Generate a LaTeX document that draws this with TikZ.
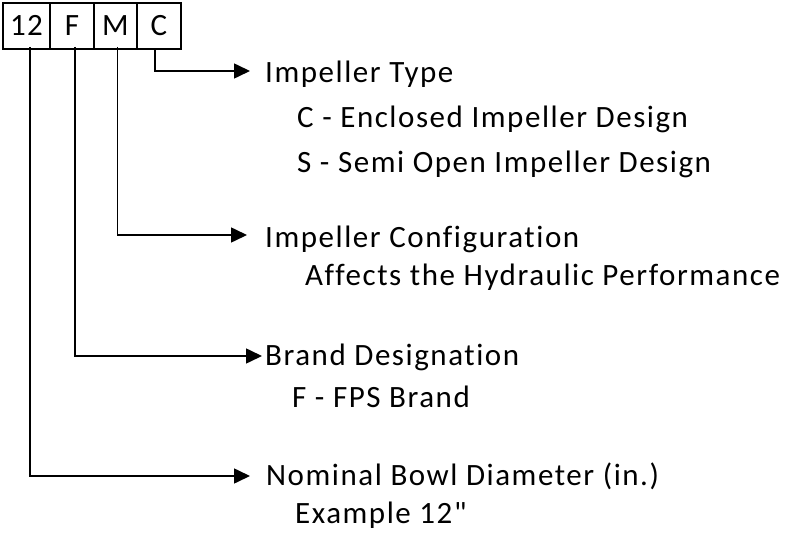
\documentclass[tikz,border=0pt]{standalone}
\usepackage{fontspec}
\setmainfont[LetterSpace=5,Ligatures={TeXOff,NoCommon}]{Carlito}
\usetikzlibrary{arrows.meta}
\begin{document}
\begin{tikzpicture}[x=1pt,y=-1pt,
  codebox/.style={draw,line width=1.6pt,rectangle,inner sep=0pt,minimum height=46pt,font=\fontsize{31}{35}\selectfont,text height=20pt,text depth=0pt},
  lbl/.style={anchor=base west,inner sep=0pt,font=\fontsize{31}{35}\selectfont},
  conn/.style={line width=1.6pt,-{Triangle[length=16pt,width=15pt]}}]
\useasboundingbox (0,0) rectangle (785,535);
% code boxes
\node[codebox,minimum width=47pt] (b12) at (26.5,26) {12};
\node[codebox,minimum width=44pt] (bF) at (72,26) {F};
\node[codebox,minimum width=43pt] (bM) at (115.5,26) {M};
\node[codebox,minimum width=44pt] (bC) at (159,26) {C};
% labels
\node[lbl] (t1) at (265,83) {Impeller Type};
\node[lbl] (t1a) at (297,128) {C - Enclosed Impeller Design};
\node[lbl] (t1b) at (297,172) {S - Semi Open Impeller Design};
\node[lbl] (t2) at (265,247) {Impeller Configuration};
\node[lbl] (t2a) at (305,285) {Affects the Hydraulic Performance};
\node[lbl] (t3) at (265,365) {Brand Designation};
\node[lbl] (t3a) at (292,407) {F - FPS Brand};
\node[lbl] (t4) at (266,485) {Nominal Bowl Diameter (in.)};
\node[lbl] (t4a) at (295,523) {Example 12"};
% arrow ends
\coordinate (eC) at (250,71);
\coordinate (eM) at (247,235);
\coordinate (eF) at (262,356);
\coordinate (e12) at (250,476);
% connectors
\draw[conn] ([xshift=-4pt]bC.south) |- (eC);
\draw[conn] ([xshift=2pt,yshift=3pt]bM.south) |- (eM);
\draw[conn] ([xshift=3pt,yshift=3pt]bF.south) |- (eF);
\draw[conn] ([xshift=3.5pt,yshift=3pt]b12.south) |- (e12);
\end{tikzpicture}
\end{document}
